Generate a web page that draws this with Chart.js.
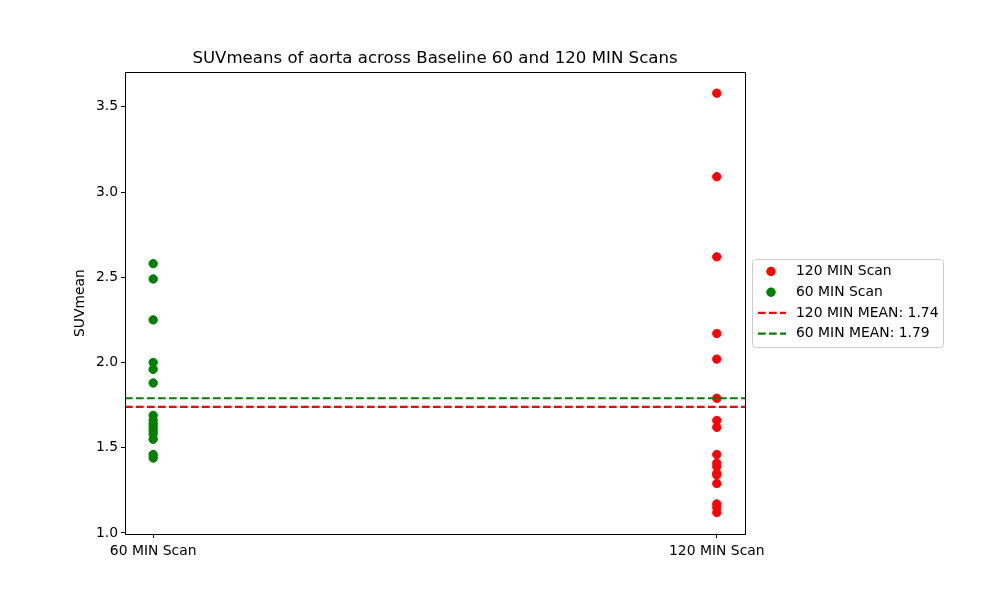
<!DOCTYPE html>
<html>
<head>
<meta charset="utf-8">
<script src="https://cdn.jsdelivr.net/npm/chart.js@4.4.0/dist/chart.umd.min.js"></script>
<style>
html,body{margin:0;padding:0;background:#fff;}
#wrap{position:relative;width:1000px;height:600px;}
</style>
</head>
<body>
<div id="wrap"><canvas id="c" width="1000" height="600"></canvas></div>
<script>
const categories = ['60 MIN Scan', '120 MIN Scan'];
const seriesNames = ['120 MIN Scan', '60 MIN Scan'];
const values60 = [2.58, 2.49, 2.25, 2.00, 1.96, 1.88, 1.69, 1.66, 1.64, 1.62, 1.60, 1.58, 1.55, 1.46, 1.44];
const values120 = [3.58, 3.09, 2.62, 2.17, 2.02, 1.79, 1.66, 1.62, 1.46, 1.41, 1.39, 1.35, 1.34, 1.29, 1.17, 1.15, 1.12];
const meanNames = ['120 MIN MEAN', '60 MIN MEAN'];
const meanValues = [1.74, 1.79];
const yTicks = [1.0, 1.5, 2.0, 2.5, 3.0, 3.5];
const titleText = 'SUVmeans of aorta across Baseline 60 and 120 MIN Scans';
const yTitle = 'SUVmean';

const RED = '#ff0000', GREEN = '#008000';
const FONT = 'DejaVu Sans';
const xMin = -0.05, xMax = 1.05;

const pts = (vals, xi) => vals.map(v => ({x: xi, y: v}));
const hline = v => [{x: xMin, y: v}, {x: xMax, y: v}];

const frame = {
  id: 'frame',
  afterDatasetsDraw(chart) {
    const {ctx, chartArea: a} = chart;
    ctx.save();
    ctx.strokeStyle = '#000';
    ctx.lineWidth = 1;
    ctx.strokeRect(Math.round(a.left) + 0.5, Math.round(a.top) + 0.5, Math.round(a.right - a.left), Math.round(a.bottom - a.top));
    ctx.restore();
  }
};

const legendBox = {
  id: 'legendBox',
  afterDraw(chart) {
    const {ctx} = chart;
    const ds = chart.data.datasets.slice().sort((a, b) => a.legendIndex - b.legendIndex);
    const x0 = 752.5, y0 = 259.5, w = 191, h = 88;
    ctx.save();
    ctx.fillStyle = 'rgba(255,255,255,0.8)';
    ctx.strokeStyle = '#cccccc';
    ctx.lineWidth = 1;
    ctx.beginPath();
    ctx.roundRect(x0, y0, w, h, 3);
    ctx.fill();
    ctx.stroke();
    ctx.font = '13.9px "' + FONT + '"';
    ctx.textBaseline = 'middle';
    ctx.textAlign = 'left';
    ds.forEach((d, i) => {
      const cy = 271.5 + i * 20.7;
      if (d.type === 'line') {
        ctx.strokeStyle = d.borderColor;
        ctx.lineWidth = 2.08;
        ctx.setLineDash([7.7, 3.3]);
        ctx.beginPath();
        ctx.moveTo(758, cy);
        ctx.lineTo(786, cy);
        ctx.stroke();
        ctx.setLineDash([]);
      } else {
        ctx.fillStyle = d.backgroundColor;
        ctx.beginPath();
        ctx.arc(771, cy, 4.7, 0, Math.PI * 2);
        ctx.fill();
      }
      ctx.fillStyle = '#000';
      ctx.fillText(d.label, 796, cy);
    });
    ctx.restore();
  }
};

new Chart(document.getElementById('c'), {
  data: {
    datasets: [
      {type: 'scatter', label: seriesNames[0], legendIndex: 0, order: 3, data: pts(values120, 1),
       backgroundColor: RED, borderColor: RED, pointRadius: 4.2, pointBorderWidth: 1, pointHoverRadius: 4.2},
      {type: 'scatter', label: seriesNames[1], legendIndex: 1, order: 2, data: pts(values60, 0),
       backgroundColor: GREEN, borderColor: GREEN, pointRadius: 4.2, pointBorderWidth: 1, pointHoverRadius: 4.2},
      {type: 'line', label: meanNames[0] + ': ' + meanValues[0].toFixed(2), legendIndex: 2, order: 1, data: hline(meanValues[0]),
       borderColor: RED, backgroundColor: RED, borderWidth: 2.08, borderDash: [7.7, 3.3], pointRadius: 0, fill: false},
      {type: 'line', label: meanNames[1] + ': ' + meanValues[1].toFixed(2), legendIndex: 3, order: 0, data: hline(meanValues[1]),
       borderColor: GREEN, backgroundColor: GREEN, borderWidth: 2.08, borderDash: [7.7, 3.3], pointRadius: 0, fill: false}
    ]
  },
  options: {
    responsive: false,
    animation: false,
    layout: {padding: {left: 0, right: 255, top: 0, bottom: 0}},
    plugins: {
      legend: {display: false},
      tooltip: {enabled: false},
      title: {
        display: true, text: titleText, fullSize: false, color: '#000',
        font: {family: FONT, size: 16.6, weight: 'normal', lineHeight: 1.2},
        padding: {top: 48.5, bottom: 3.8}
      }
    },
    scales: {
      x: {
        type: 'linear', min: xMin, max: xMax,
        afterBuildTicks: s => { s.ticks = categories.map((c, i) => ({value: i})); },
        afterFit: s => { s.height = 66; },
        grid: {drawOnChartArea: false, drawTicks: true, tickLength: 4, color: '#000'},
        border: {display: true, color: '#000'},
        ticks: {color: '#000', font: {family: FONT, size: 13.9}, padding: 5, maxRotation: 0,
                callback: v => categories[v] !== undefined ? categories[v] : ''}
      },
      y: {
        type: 'linear', min: 0.994, max: 3.703,
        afterBuildTicks: s => { s.ticks = yTicks.map(v => ({value: v})); },
        afterFit: s => { s.width = 125; },
        grid: {drawOnChartArea: false, drawTicks: true, tickLength: 4, color: '#000'},
        border: {display: true, color: '#000'},
        ticks: {color: '#000', font: {family: FONT, size: 13.9}, padding: 3,
                callback: v => Number(v).toFixed(1)},
        title: {display: true, text: yTitle, color: '#000', font: {family: FONT, size: 13.9}, padding: {top: 72.5, bottom: 0}}
      }
    }
  },
  plugins: [frame, legendBox]
});
</script>
</body>
</html>
